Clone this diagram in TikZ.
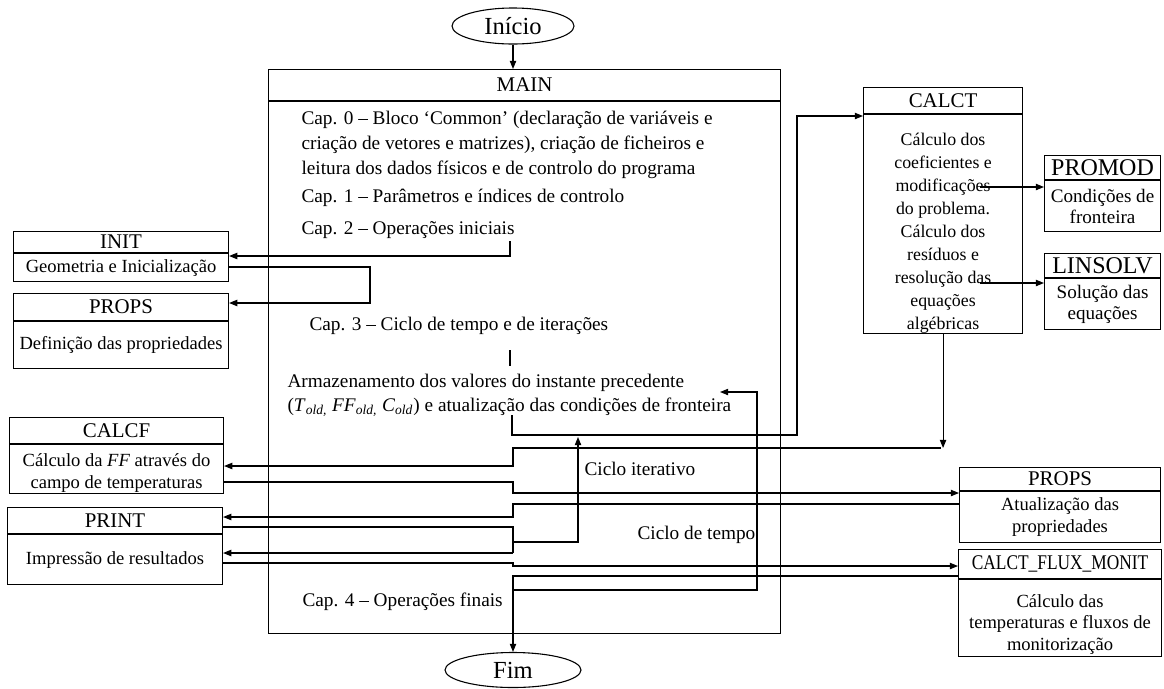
\documentclass[tikz,border=0pt]{standalone}
\usepackage{fontspec}
\usepackage{graphicx}
\setmainfont{Liberation Serif}
\usetikzlibrary{arrows.meta, positioning, shapes.geometric}
\newcommand{\pxl}{0.55pt}
\tikzset{
  hdr/.style 2 args={rectangle, draw, anchor=north west,
                     minimum width=#1*\pxl, minimum height=#2*\pxl,
                     inner sep=0pt, align=center,
                     font=\fontsize{11.5}{13}\selectfont},
  bdy/.style 2 args={rectangle, draw,
                     minimum width=#1*\pxl, minimum height=#2*\pxl,
                     inner sep=0pt, align=center,
                     font=\fontsize{10.2}{12}\selectfont},
  term/.style={ellipse, draw, inner sep=0pt, font=\fontsize{13.5}{15}\selectfont},
  txt/.style={anchor=west, align=left, inner sep=0pt},
  arrow/.style={-{Triangle[length=4.5pt, width=3.5pt]}}
}

\begin{document}
\begin{tikzpicture}[x=\pxl, y=-\pxl, line width=0.6pt,
                    font=\fontsize{10.6}{13.2}\selectfont]
\useasboundingbox (0,0) rectangle (1164,688);

% Start and end
\node[term, minimum width=122*\pxl, minimum height=36*\pxl] (inicio) at (513,26) {Início};
\node[term, minimum width=136*\pxl, minimum height=35*\pxl] (fim) at (513,670) {Fim};

% MAIN block
\node[hdr={512}{31}] (main) at (268,69) {MAIN};
\node[bdy={512}{532}, below=0pt of main] (mainb) {};

\node[txt, font=\fontsize{10.6}{13.7}\selectfont] (cap0) at (301,145) {Cap. 0 -- Bloco ‘Common’ (declaração de variáveis e\\
criação de vetores e matrizes), criação de ficheiros e\\
leitura dos dados físicos e de controlo do programa};
\node[txt] (cap1) at (301,198) {Cap. 1 -- Parâmetros e índices de controlo};
\node[txt] (cap2) at (301,230) {Cap. 2 -- Operações iniciais};
\node[txt] (cap3) at (309,326) {Cap. 3 -- Ciclo de tempo e de iterações};
\node[txt] (arm) at (287,395) {Armazenamento dos valores do instante precedente\\
(\textit{T}\textsubscript{\textit{old,}} \textit{FF}\textsubscript{\textit{old,}} \textit{C}\textsubscript{\textit{old}}) e atualização das condições de fronteira};
\node[txt] (citer) at (584,469) {Ciclo iterativo};
\node[txt] (ctempo) at (637,535) {Ciclo de tempo};
\node[txt] (cap4) at (302,602) {Cap. 4 -- Operações finais};

% Left column
\node[hdr={215}{21}] (init) at (13,231) {INIT};
\node[bdy={215}{28}, below=0pt of init] (initb) {Geometria e Inicialização};
\node[hdr={215}{27}] (props) at (13,293) {PROPS};
\node[bdy={215}{47}, below=0pt of props] (propsb) {Definição das propriedades};
\node[hdr={214}{26}] (calcf) at (9,417) {CALCF};
\node[bdy={214}{49}, below=0pt of calcf] (calcfb) {\rule{0pt}{11pt}Cálculo da \textit{FF} através do\\campo de temperaturas};
\node[hdr={215}{26}] (print) at (7,507) {PRINT};
\node[bdy={215}{50}, below=0pt of print] (printb) {Impressão de resultados};

% Right column
\node[hdr={159}{26}] (calct) at (863,87) {CALCT};
\node[bdy={159}{217}, below=0pt of calct, font=\fontsize{9.8}{12.65}\selectfont] (calctb) {\rule{0pt}{17pt}Cálculo dos\\coeficientes e\\modificações\\do problema.\\Cálculo dos\\resíduos e\\resolução das\\equações\\algébricas};
\node[hdr={116}{24}, font=\fontsize{13.2}{14}\selectfont] (promod) at (1044,155) {PROMOD};
\node[bdy={116}{51}, below=0pt of promod, font=\fontsize{10.5}{11.6}\selectfont] (promodb) {Condições de\\fronteira};
\node[hdr={116}{24}, font=\fontsize{13.2}{14}\selectfont] (linsolv) at (1044,253) {LINSOLV};
\node[bdy={116}{51}, below=0pt of linsolv, font=\fontsize{10.5}{11.6}\selectfont] (linsolvb) {Solução das\\equações};
\node[hdr={201}{23}] (propsr) at (959,467) {PROPS};
\node[bdy={201}{51}, below=0pt of propsr] (propsrb) {Atualização das\\propriedades};
\node[hdr={203}{29}] (flux) at (958,549) {\scalebox{0.83}[1]{CALCT\_FLUX\_MONIT}};
\node[bdy={203}{77}, below=0pt of flux, font=\fontsize{10.2}{11.8}\selectfont] (fluxb) {\rule{0pt}{14pt}Cálculo das\\temperaturas e fluxos de\\monitorização};

% Junction points
\coordinate (k1) at (510,241);  \coordinate (k2) at (510,256);
\coordinate (j1) at (370,267);  \coordinate (j2) at (370,303);
\coordinate (t1) at (510,350);  \coordinate (t2) at (510,366);
\coordinate (a1) at (512,415);  \coordinate (a2) at (797,435);  \coordinate (a3) at (797,116);
\coordinate (p1) at (980,187);  \coordinate (p2) at (980,283);
\coordinate (b1) at (941,448);  \coordinate (b2) at (513,448);  \coordinate (b3) at (513,466);
\coordinate (c1) at (513,482);  \coordinate (c2) at (513,493);
\coordinate (d1) at (513,504);  \coordinate (d2) at (513,517);
\coordinate (e1) at (513,527);  \coordinate (e2) at (513,542);  \coordinate (e3) at (578,542);
\coordinate (e4) at (578,437);  \coordinate (e5) at (513,553);
\coordinate (f1) at (513,563);  \coordinate (f2) at (513,566);
\coordinate (g1) at (513,576);  \coordinate (g2) at (513,590);  \coordinate (g3) at (757,590);
\coordinate (g4) at (757,392);  \coordinate (g5) at (720,392);

% --- Connections ---
\draw[arrow] (inicio.south) -- (inicio.south |- main.north);
\draw[arrow] (k1) -- (k2) -- (k2 -| initb.east);
\draw[arrow] (j1 -| initb.east) -- (j1) -- (j2) -- (j2 -| props.east);
\draw (t1) -- (t2);

% MAIN -> CALCT and sub-routines
\draw[arrow] (a1) |- (a2) -- (a3) -- (a3 -| calctb.west);
\draw[arrow] (p1) -- (p1 -| promodb.west);
\draw[arrow] (p2) -- (p2 -| linsolvb.west);

% CALCT -> CALCF -> PROPS -> PRINT
\draw[arrow] (calctb.south) -- (calctb.south |- b1);
\draw[arrow] (b1) -- (b2) -- (b3) -- (b3 -| calcfb.east);
\draw[arrow] (c1 -| calcfb.east) -- (c1) -- (c2) -- (c2 -| propsrb.west);
\draw[arrow] (d1 -| propsrb.west) -- (d1) -- (d2) -- (d2 -| print.east);

% Iteration loop and results
\draw (e1 -| printb.east) -- (e1) -- (e5);
\draw[arrow] (e2) -- (e3) -- (e4);
\draw[arrow] (e5) -- (e5 -| printb.east);
\draw[arrow] (f1 -| printb.east) -- (f1) -- (f2) -- (f2 -| flux.west);

% Time loop and end
\draw[arrow] (g1 -| flux.west) -- (g1) -- (fim.north);
\draw[arrow] (g2) -- (g3) -- (g4) -- (g5);

\end{tikzpicture}
\end{document}
